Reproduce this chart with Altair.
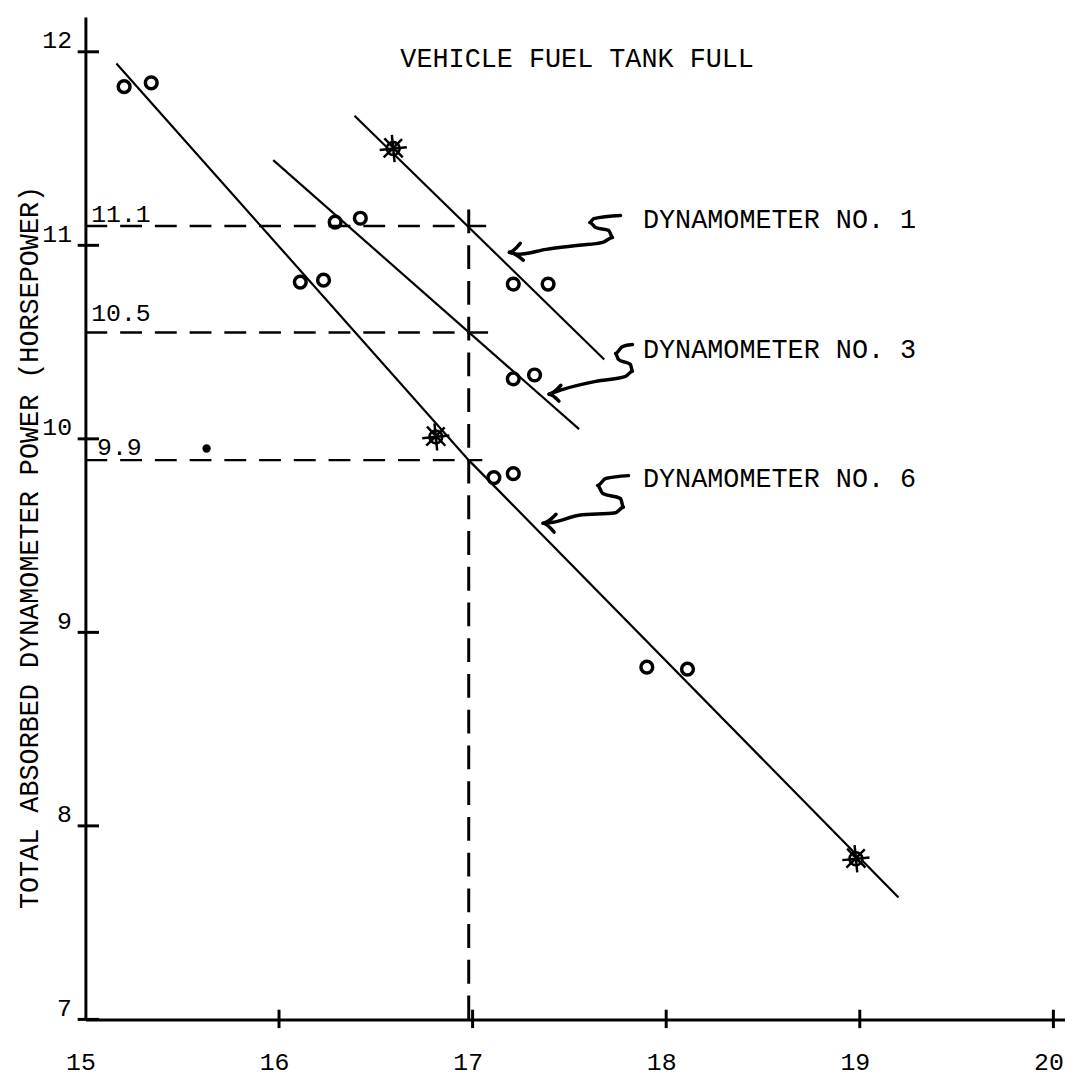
import altair as alt
import pandas as pd

FONT = "Liberation Mono"
INK = "#000000"

# ---- axes -------------------------------------------------------------
X_TICKS = [15, 16, 17, 18, 19, 20]
Y_TICKS = [7, 8, 9, 10, 11, 12]
X_DOMAIN = [15, 20.06]
Y_DOMAIN = [7, 12.18]

# ---- fitted lines (endpoints as drawn) --------------------------------
DYN1_X = [16.39, 17.68]
DYN1_Y = [11.67, 10.41]
DYN3_X = [15.97, 17.55]
DYN3_Y = [11.44, 10.05]
DYN6_X = [15.16, 16.98, 19.20]
DYN6_Y = [11.94, 9.89, 7.63]

# ---- plotted points ---------------------------------------------------
CIRCLE_X = [15.20, 15.34, 16.11, 16.23, 17.11, 17.21, 17.90, 18.11,
            16.29, 16.42, 17.21, 17.32,
            17.21, 17.39]
CIRCLE_Y = [11.82, 11.84, 10.81, 10.82, 9.80, 9.82, 8.82, 8.81,
            11.12, 11.14, 10.31, 10.33,
            10.80, 10.80]
STAR_X = [16.59, 16.81, 18.98]
STAR_Y = [11.50, 10.01, 7.83]
BLOB_X = [15.626]
BLOB_Y = [9.95]

# ---- read-off construction at 17 --------------------------------------
READ_X = 16.98
READ_TOP = 11.19
READ_LEVELS = [11.10, 10.55, 9.89]
READ_END = [17.07, 17.08, 17.05]
READ_LABELS = ["11.1", "10.5", "9.9"]
READ_LABEL_X = [15.03, 15.03, 15.06]
READ_LABEL_Y = [11.16, 10.65, 9.96]

# ---- labels -----------------------------------------------------------
TITLE = "VEHICLE FUEL TANK FULL"
TITLE_X = 17.54
TITLE_Y = 11.96
DYN_LABELS = ["DYNAMOMETER NO. 1", "DYNAMOMETER NO. 3", "DYNAMOMETER NO. 6"]
DYN_LABEL_X = [17.88, 17.88, 17.88]
DYN_LABEL_Y = [11.13, 10.46, 9.79]
Y_TITLE = "TOTAL ABSORBED DYNAMOMETER POWER (HORSEPOWER)"

# ---- hand-drawn squiggle arrows (data units) --------------------------
ARROW1_X = [17.764, 17.626, 17.605, 17.636, 17.703, 17.723, 17.672, 17.549, 17.379, 17.241, 17.190]
ARROW1_Y = [11.154, 11.138, 11.118, 11.092, 11.077, 11.041, 11.015, 11.000, 10.979, 10.954, 10.964]
ARROW3_X = [17.826, 17.774, 17.738, 17.754, 17.815, 17.826, 17.790, 17.636, 17.467, 17.395]
ARROW3_Y = [10.487, 10.477, 10.441, 10.410, 10.385, 10.349, 10.323, 10.297, 10.256, 10.231]
ARROW6_X = [17.805, 17.687, 17.646, 17.672, 17.764, 17.779, 17.738, 17.549, 17.415, 17.364]
ARROW6_Y = [9.810, 9.795, 9.759, 9.718, 9.692, 9.646, 9.618, 9.605, 9.569, 9.564]
HEAD1_X = [17.246, 17.190, 17.262]
HEAD1_Y = [11.010, 10.964, 10.923]
HEAD3_X = [17.456, 17.395, 17.446]
HEAD3_Y = [10.277, 10.231, 10.195]
HEAD6_X = [17.431, 17.364, 17.421]
HEAD6_Y = [9.610, 9.564, 9.518]

# ---- build tables -----------------------------------------------------
def path_rows(name, xs, ys):
    return [{"id": name, "i": i, "x": x, "y": y} for i, (x, y) in enumerate(zip(xs, ys))]

lines_df = pd.DataFrame(path_rows("d1", DYN1_X, DYN1_Y) + path_rows("d3", DYN3_X, DYN3_Y)
                        + path_rows("d6", DYN6_X, DYN6_Y))
arrows_df = pd.DataFrame(path_rows("a1", ARROW1_X, ARROW1_Y) + path_rows("a3", ARROW3_X, ARROW3_Y)
                         + path_rows("a6", ARROW6_X, ARROW6_Y) + path_rows("h1", HEAD1_X, HEAD1_Y)
                         + path_rows("h3", HEAD3_X, HEAD3_Y) + path_rows("h6", HEAD6_X, HEAD6_Y))
circles_df = pd.DataFrame({"x": CIRCLE_X, "y": CIRCLE_Y})
stars_df = pd.DataFrame({"x": STAR_X, "y": STAR_Y})
blob_df = pd.DataFrame({"x": BLOB_X, "y": BLOB_Y})
hread_df = pd.DataFrame({"x0": [X_TICKS[0]] * 3, "x1": READ_END, "y": READ_LEVELS})
vread_df = pd.DataFrame({"x": [READ_X], "y0": [Y_TICKS[0]], "y1": [READ_TOP]})
readlab_df = pd.DataFrame({"x": READ_LABEL_X, "y": READ_LABEL_Y, "t": READ_LABELS})
dynlab_df = pd.DataFrame({"x": DYN_LABEL_X, "y": DYN_LABEL_Y, "t": DYN_LABELS})
title_df = pd.DataFrame({"x": [TITLE_X], "y": [TITLE_Y], "t": [TITLE]})
ytick_df = pd.DataFrame({"y": Y_TICKS, "x0": [14.96] * 6, "x1": [15.07] * 6})
xtick_df = pd.DataFrame({"x": X_TICKS[1:], "y0": [6.955] * 5, "y1": [7.05] * 5})

xs = alt.Scale(domain=X_DOMAIN, nice=False, zero=False)
ys = alt.Scale(domain=Y_DOMAIN, nice=False, zero=False)

x_axis = alt.Axis(values=X_TICKS, format="d", title=None, grid=False, ticks=False, domainWidth=3,
                  domainColor=INK, labelFont=FONT, labelFontSize=25, labelColor=INK,
                  labelPadding=30, labelBaseline="top", labelFlush=False, labelOffset=-5)
y_axis = alt.Axis(values=Y_TICKS, format="d", title=Y_TITLE, grid=False, ticks=False, domainWidth=3,
                  domainColor=INK, labelFont=FONT, labelFontSize=25, labelColor=INK,
                  labelPadding=14, labelBaseline="alphabetic", labelOffset=-4,
                  titleFont=FONT, titleFontSize=27, titleFontWeight="normal", titleColor=INK,
                  titleAngle=270, titleX=-56, titleY=534, titleAlign="center",
                  titleBaseline="middle")

axes_layer = alt.Chart(lines_df).mark_line(opacity=0).encode(
    x=alt.X("x:Q", scale=xs, axis=x_axis),
    y=alt.Y("y:Q", scale=ys, axis=y_axis),
    detail="id:N",
)

hread = alt.Chart(hread_df).mark_rule(color=INK, strokeWidth=2.5, strokeDash=[22, 13]).encode(
    x="x0:Q", x2="x1:Q", y="y:Q")
vread = alt.Chart(vread_df).mark_rule(color=INK, strokeWidth=3, strokeDash=[24, 12]).encode(
    x="x:Q", y="y0:Q", y2="y1:Q")

fit_lines = alt.Chart(lines_df).mark_line(color=INK, strokeWidth=2.2).encode(
    x="x:Q", y="y:Q", detail="id:N", order="i:Q")

circles = alt.Chart(circles_df).mark_point(shape="circle", filled=False, color=INK, opacity=1,
                                            size=140, strokeWidth=3.5).encode(x="x:Q", y="y:Q")
star_core = alt.Chart(stars_df).mark_point(shape="circle", filled=True, color="#c8c8c8",
                                            stroke=INK, strokeWidth=2.5, size=170, opacity=1).encode(
    x="x:Q", y="y:Q")
star_rays = alt.Chart(stars_df).mark_point(
    shape="M-1,0.1L1,-0.1M-0.1,-1L0.1,1M-0.65,-0.75L0.7,0.65M-0.7,0.65L0.65,-0.7",
    filled=False, color=INK, opacity=1, strokeWidth=2.5, size=750).encode(x="x:Q", y="y:Q")
blob = alt.Chart(blob_df).mark_point(shape="circle", filled=True, color=INK, size=70,
                                      opacity=1).encode(x="x:Q", y="y:Q")

arrows = alt.Chart(arrows_df).mark_line(color=INK, strokeWidth=3.5, strokeCap="round",
                                         strokeJoin="round", interpolate="monotone").encode(
    x="x:Q", y="y:Q", detail="id:N", order="i:Q")

yticks = alt.Chart(ytick_df).mark_rule(color=INK, strokeWidth=3).encode(
    x="x0:Q", x2="x1:Q", y="y:Q")
xticks = alt.Chart(xtick_df).mark_rule(color=INK, strokeWidth=3).encode(
    x="x:Q", y="y0:Q", y2="y1:Q")

read_labels = alt.Chart(readlab_df).mark_text(font=FONT, fontSize=25, color=INK, align="left",
                                               baseline="middle").encode(
    x="x:Q", y="y:Q", text="t:N")
dyn_labels = alt.Chart(dynlab_df).mark_text(font=FONT, fontSize=27, color=INK, align="left",
                                             baseline="middle").encode(
    x="x:Q", y="y:Q", text="t:N")
title = alt.Chart(title_df).mark_text(font=FONT, fontSize=27, color=INK, align="center",
                                       baseline="middle").encode(
    x="x:Q", y="y:Q", text="t:N")

chart = alt.layer(
    axes_layer, hread, vread, fit_lines, circles, star_core, star_rays, blob, arrows,
    yticks, xticks, read_labels, dyn_labels, title,
).properties(
    width=987, height=1010,
    autosize=alt.AutoSizeParams(type="none"),
    padding={"left": 78, "top": 5, "right": 0, "bottom": 55},
    background="white",
).configure_view(stroke=None)

chart.save("out.html", embed_options={"renderer": "svg", "actions": False})
